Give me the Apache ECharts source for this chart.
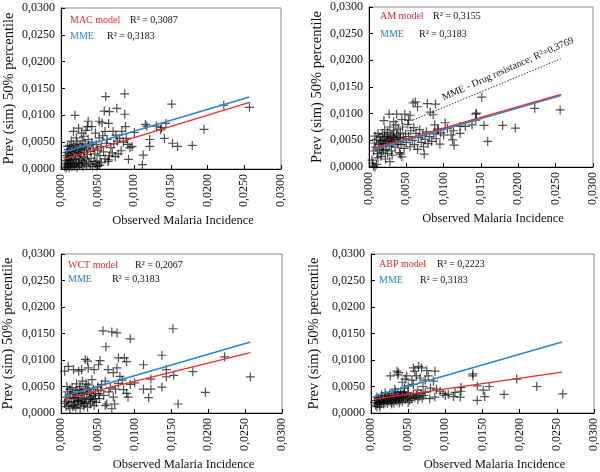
<!DOCTYPE html>
<html><head><meta charset="utf-8">
<script src="https://cdn.jsdelivr.net/npm/echarts@6/dist/echarts.min.js"></script>
<style>html,body{margin:0;padding:0;background:#fff}#c{width:600px;height:472px}</style>
</head><body><div id="c"></div>
<script>
// ---------- data ----------
const tickLabels = ['0,0000','0,0050','0,0100','0,0150','0,0200','0,0250','0,0300'];
const xName = 'Observed Malaria Incidence';
const yName = 'Prev (sim) 50% percentile';
const modelNames = ['MAC model','AM model','WCT model','ABP model'];
const modelR2 = ['R² = 0,3087','R² = 0,3155','R² = 0,2067','R² = 0,2223'];
const mmeName = 'MME';
const mmeR2 = 'R² = 0,3183';
const drugLabel = 'MME - Drug resistance; R²=0,3769';

const mmeLine = [[0.0005,0.0032],[0.0257,0.0134]];
const macLine = [[0.0005,0.0019],[0.0257,0.0124]];
const amLine  = [[0.0005,0.0035],[0.0257,0.0136]];
const wctLine = [[0.0005,0.0027],[0.0257,0.0114]];
const abpLine = [[0.0005,0.0026],[0.0257,0.0077]];
const drugLine = [[0.0059,0.0088],[0.0257,0.0203]];

const macPoints = [
[0.0061,0.0135],[0.0087,0.0140],[0.0019,0.0100],[0.0076,0.0113],[0.0059,0.0108],[0.0066,0.0107],[0.0087,0.0102],[0.0037,0.0089],[0.0052,0.0089],[0.0056,0.0086],[0.0065,0.0085],[0.0115,0.0083],[0.0136,0.0073],[0.0100,0.0068],[0.0083,0.0070],[0.0071,0.0070],[0.0060,0.0070],[0.0047,0.0067],[0.0036,0.0079],[0.0024,0.0076],[0.0017,0.0070],[0.0028,0.0067],[0.0042,0.0079],[0.0121,0.0055],[0.0121,0.0042],[0.0094,0.0040],[0.0112,0.0026],[0.0092,0.0018],[0.0111,0.0008],[0.0082,0.0034],[0.0074,0.0023],[0.0065,0.0017],[0.0053,0.0007],[0.0049,0.0015],
[0.0151,0.0121],[0.0222,0.0119],[0.0257,0.0115],[0.0195,0.0074],[0.0137,0.0077],[0.0143,0.0085],[0.0141,0.0057],[0.0152,0.0048],[0.0159,0.0042],[0.0179,0.0044],[0.0117,0.0080],[0.0130,0.0080],
[0.0068,0.0040],[0.0072,0.0047],[0.0077,0.0052],[0.0080,0.0057],[0.0085,0.0050],[0.0089,0.0057],[0.0091,0.0046],[0.0070,0.0030],[0.0078,0.0028],[0.0066,0.0025],[0.0075,0.0063],[0.0088,0.0079],[0.0097,0.0042],
[0.0005,0.0004],[0.0006,0.0009],[0.0007,0.0002],[0.0008,0.0013],[0.0009,0.0006],[0.0010,0.0010],[0.0011,0.0003],[0.0012,0.0016],[0.0013,0.0007],[0.0014,0.0011],[0.0015,0.0004],[0.0016,0.0020],[0.0017,0.0008],[0.0018,0.0013],[0.0019,0.0005],[0.0020,0.0017],[0.0021,0.0010],[0.0022,0.0003],[0.0023,0.0024],[0.0024,0.0012],[0.0025,0.0007],[0.0026,0.0019],[0.0027,0.0029],[0.0028,0.0009],[0.0029,0.0015],[0.0030,0.0004],[0.0031,0.0022],[0.0032,0.0011],[0.0034,0.0017],[0.0035,0.0006],[0.0036,0.0027],[0.0038,0.0013],[0.0040,0.0008],[0.0041,0.0020],[0.0043,0.0004],[0.0045,0.0014],[0.0047,0.0010],[0.0049,0.0005],[0.0052,0.0007],[0.0055,0.0012],
[0.0006,0.0025],[0.0008,0.0031],[0.0009,0.0042],[0.0010,0.0036],[0.0011,0.0028],[0.0012,0.0044],[0.0013,0.0033],[0.0015,0.0039],[0.0016,0.0030],[0.0017,0.0045],[0.0018,0.0036],[0.0019,0.0026],[0.0020,0.0041],[0.0021,0.0033],[0.0022,0.0048],[0.0024,0.0038],[0.0025,0.0030],[0.0026,0.0045],[0.0028,0.0035],[0.0029,0.0052],[0.0030,0.0040],[0.0032,0.0031],[0.0033,0.0047],[0.0035,0.0037],[0.0037,0.0055],[0.0038,0.0043],[0.0040,0.0033],[0.0042,0.0050],[0.0044,0.0039],[0.0046,0.0028],[0.0048,0.0046],[0.0050,0.0035],[0.0053,0.0025],[0.0055,0.0042],[0.0058,0.0032],[0.0060,0.0019],[0.0062,0.0048],[0.0064,0.0014],
[0.0031,0.0061],[0.0034,0.0072],[0.0052,0.0058],[0.0057,0.0062],[0.0063,0.0055],[0.0014,0.0052],[0.0021,0.0058],[0.0007,0.0016],[0.0009,0.0021],[0.0011,0.0018],[0.0014,0.0024]
];

const amPoints = [
[0.0151,0.0131],[0.0222,0.0110],[0.0256,0.0107],[0.0143,0.0099],[0.0143,0.0088],[0.0138,0.0079],[0.0122,0.0076],[0.0122,0.0063],[0.0154,0.0078],[0.0179,0.0078],[0.0196,0.0073],[0.0159,0.0048],
[0.0059,0.0120],[0.0065,0.0113],[0.0078,0.0119],[0.0089,0.0118],[0.0062,0.0122],[0.0082,0.0103],[0.0086,0.0098],[0.0027,0.0099],[0.0037,0.0099],[0.0048,0.0099],[0.0055,0.0097],[0.0020,0.0087],[0.0033,0.0085],[0.0044,0.0089],[0.0053,0.0088],[0.0144,0.0101],[0.0129,0.0076],[0.0102,0.0083],[0.0088,0.0079],[0.0093,0.0069],[0.0095,0.0043],[0.0112,0.0051],[0.0114,0.0041],[0.0074,0.0024],[0.0042,0.0024],[0.0044,0.0019],[0.0028,0.0010],[0.0004,0.0013],[0.0006,0.0002],[0.0008,0.0000],[0.0005,0.0007],[0.0010,0.0005],[0.0012,0.0017],
[0.0006,0.0030],[0.0007,0.0045],[0.0008,0.0058],[0.0009,0.0037],[0.0010,0.0052],[0.0011,0.0025],[0.0012,0.0063],[0.0013,0.0042],[0.0014,0.0033],[0.0015,0.0056],[0.0016,0.0047],[0.0017,0.0028],[0.0018,0.0061],[0.0019,0.0038],[0.0020,0.0052],[0.0021,0.0070],[0.0022,0.0044],[0.0023,0.0033],[0.0024,0.0058],[0.0025,0.0065],[0.0026,0.0048],[0.0027,0.0039],[0.0028,0.0075],[0.0029,0.0055],[0.0030,0.0030],[0.0031,0.0062],[0.0032,0.0045],[0.0033,0.0068],[0.0034,0.0052],[0.0035,0.0037],[0.0036,0.0079],[0.0037,0.0060],[0.0038,0.0047],[0.0039,0.0071],[0.0040,0.0056],[0.0041,0.0027],[0.0042,0.0064],[0.0043,0.0042],[0.0045,0.0075],[0.0046,0.0053],[0.0047,0.0035],[0.0049,0.0062],[0.0050,0.0046],[0.0052,0.0080],[0.0053,0.0057],[0.0055,0.0038],[0.0056,0.0068],[0.0058,0.0050],[0.0060,0.0074],[0.0061,0.0042],[0.0063,0.0063],[0.0065,0.0033],[0.0066,0.0055],[0.0068,0.0070],[0.0070,0.0046],[0.0072,0.0060],[0.0073,0.0038],[0.0075,0.0052],[0.0077,0.0066],[0.0079,0.0044],[0.0081,0.0057],[0.0084,0.0048],[0.0087,0.0062],[0.0090,0.0053],[0.0092,0.0071],[0.0096,0.0064],[0.0100,0.0060],[0.0105,0.0072],[0.0110,0.0060],[0.0113,0.0068],
[0.0015,0.0050],[0.0018,0.0044],[0.0021,0.0057],[0.0024,0.0049],[0.0027,0.0054],[0.0030,0.0047],[0.0033,0.0058],[0.0036,0.0051],[0.0039,0.0043],[0.0042,0.0055],[0.0019,0.0031],[0.0025,0.0025],[0.0031,0.0022],[0.0016,0.0020],[0.0022,0.0015]
];

const wctPoints = [
[0.0152,0.0159],[0.0222,0.0106],[0.0257,0.0068],[0.0137,0.0109],[0.0143,0.0082],[0.0143,0.0068],[0.0153,0.0071],[0.0179,0.0078],[0.0196,0.0039],[0.0137,0.0049],[0.0159,0.0017],[0.0122,0.0064],[0.0122,0.0045],[0.0112,0.0045],[0.0119,0.0029],[0.0112,0.0091],
[0.0057,0.0155],[0.0069,0.0153],[0.0076,0.0151],[0.0094,0.0140],[0.0061,0.0125],[0.0033,0.0101],[0.0036,0.0098],[0.0053,0.0099],[0.0078,0.0104],[0.0086,0.0104],[0.0089,0.0097],
[0.0005,0.0079],[0.0010,0.0088],[0.0017,0.0082],[0.0024,0.0079],[0.0028,0.0082],[0.0037,0.0085],[0.0045,0.0082],[0.0051,0.0091],[0.0064,0.0082],[0.0071,0.0076],[0.0076,0.0085],[0.0094,0.0054],[0.0100,0.0057],[0.0089,0.0037],[0.0091,0.0030],[0.0071,0.0030],[0.0073,0.0017],[0.0069,0.0008],[0.0060,0.0014],[0.0062,0.0017],[0.0046,0.0027],[0.0051,0.0036],[0.0055,0.0054],[0.0060,0.0060],[0.0067,0.0048],[0.0080,0.0069],[0.0083,0.0062],[0.0074,0.0045],[0.0078,0.0056],[0.0085,0.0044],[0.0065,0.0040],[0.0058,0.0033],
[0.0005,0.0018],[0.0006,0.0030],[0.0007,0.0012],[0.0008,0.0022],[0.0009,0.0040],[0.0010,0.0015],[0.0011,0.0027],[0.0012,0.0008],[0.0013,0.0035],[0.0014,0.0019],[0.0015,0.0048],[0.0016,0.0012],[0.0017,0.0029],[0.0018,0.0021],[0.0019,0.0038],[0.0020,0.0010],[0.0021,0.0055],[0.0022,0.0024],[0.0023,0.0016],[0.0024,0.0033],[0.0025,0.0044],[0.0026,0.0009],[0.0027,0.0026],[0.0028,0.0019],[0.0029,0.0060],[0.0030,0.0037],[0.0031,0.0013],[0.0032,0.0028],[0.0033,0.0047],[0.0034,0.0021],[0.0035,0.0035],[0.0036,0.0011],[0.0037,0.0053],[0.0038,0.0025],[0.0039,0.0040],[0.0040,0.0017],[0.0041,0.0031],[0.0042,0.0063],[0.0043,0.0022],[0.0044,0.0045],[0.0045,0.0014],[0.0047,0.0037],[0.0048,0.0020],[0.0050,0.0049],[0.0052,0.0027],[0.0054,0.0042],
[0.0008,0.0050],[0.0012,0.0045],[0.0016,0.0036],[0.0020,0.0029],[0.0024,0.0023],[0.0028,0.0039],[0.0032,0.0018],[0.0036,0.0043],[0.0040,0.0026],[0.0044,0.0033],[0.0018,0.0014],[0.0022,0.0042],[0.0026,0.0050],[0.0030,0.0022],[0.0034,0.0055]
];

const abpPoints = [
[0.0137,0.0074],[0.0137,0.0070],[0.0196,0.0064],[0.0223,0.0050],[0.0258,0.0036],[0.0143,0.0051],[0.0159,0.0050],[0.0151,0.0043],[0.0143,0.0024],[0.0153,0.0031],[0.0179,0.0035],[0.0121,0.0048],[0.0121,0.0041],
[0.0026,0.0070],[0.0035,0.0079],[0.0037,0.0076],[0.0036,0.0072],[0.0048,0.0070],[0.0046,0.0064],[0.0057,0.0085],[0.0059,0.0079],[0.0064,0.0088],[0.0068,0.0085],[0.0061,0.0070],[0.0075,0.0080],[0.0077,0.0070],[0.0073,0.0062],[0.0086,0.0079],[0.0050,0.0051],[0.0057,0.0054],[0.0088,0.0045],[0.0084,0.0060],[0.0097,0.0037],[0.0111,0.0031],[0.0120,0.0030],[0.0113,0.0039],[0.0073,0.0039],[0.0079,0.0027],[0.0086,0.0030],[0.0100,0.0033],[0.0066,0.0066],[0.0070,0.0050],[0.0063,0.0043],[0.0080,0.0047],[0.0093,0.0041],[0.0104,0.0035],[0.0055,0.0062],[0.0042,0.0058],[0.0032,0.0045],[0.0040,0.0040],[0.0045,0.0047],
[0.0005,0.0020],[0.0006,0.0015],[0.0007,0.0024],[0.0008,0.0012],[0.0009,0.0018],[0.0010,0.0028],[0.0011,0.0021],[0.0012,0.0016],[0.0013,0.0025],[0.0014,0.0019],[0.0015,0.0030],[0.0016,0.0022],[0.0017,0.0017],[0.0018,0.0027],[0.0019,0.0020],[0.0020,0.0033],[0.0021,0.0024],[0.0022,0.0018],[0.0023,0.0029],[0.0024,0.0022],[0.0025,0.0036],[0.0026,0.0026],[0.0027,0.0020],[0.0028,0.0031],[0.0029,0.0024],[0.0030,0.0028],[0.0031,0.0019],[0.0032,0.0033],[0.0033,0.0025],[0.0034,0.0029],[0.0035,0.0022],[0.0036,0.0038],[0.0037,0.0027],[0.0038,0.0031],[0.0039,0.0024],[0.0040,0.0034],[0.0041,0.0028],[0.0042,0.0021],[0.0043,0.0036],[0.0044,0.0030],[0.0046,0.0025],[0.0047,0.0033],[0.0049,0.0028],[0.0050,0.0038],[0.0052,0.0024],[0.0053,0.0031],[0.0055,0.0027],[0.0057,0.0035],[0.0059,0.0029],[0.0061,0.0033],[0.0063,0.0026],[0.0065,0.0031],[0.0067,0.0037],[0.0069,0.0028],[0.0071,0.0033],
[0.0012,0.0011],[0.0008,0.0030],[0.0014,0.0034],[0.0019,0.0038],[0.0024,0.0031],[0.0028,0.0017],[0.0033,0.0040],[0.0038,0.0019],[0.0045,0.0040],[0.0050,0.0020]
];

// ---------- layout / style ----------
const FONT = "'Liberation Serif','Times New Roman',serif";
const RED = '#ee2a2a', BLUE = '#2a86cc';
const grids = [
  {left:61, top:8, width:220, height:161},
  {left:369, top:7, width:224, height:160},
  {left:61, top:254, width:221, height:162},
  {left:371, top:254, width:223, height:162}
];
const yNameGaps = [44,44,45,49];
const panelPoints = [macPoints, amPoints, wctPoints, abpPoints];
const panelLines = [macLine, amLine, wctLine, abpLine];

function fmt(v){ const i = Math.round(v/0.005); return tickLabels[i] !== undefined ? tickLabels[i] : ''; }

const xAxes = [], yAxes = [], series = [];
grids.forEach((g,i)=>{
  xAxes.push({
    gridIndex:i, type:'value', min:0, max:0.03, interval:0.005,
    name:xName, nameLocation:'middle', nameGap:45,
    nameTextStyle:{fontFamily:FONT, fontSize:12.5, color:'#111', padding:[0,0,0,24]},
    axisLine:{show:true, onZero:false, lineStyle:{color:'#000', width:1}},
    axisTick:{show:true, inside:true, length:4, lineStyle:{color:'#000'}},
    axisLabel:{rotate:90, margin:5, fontFamily:FONT, fontSize:12, color:'#111', formatter:fmt},
    splitLine:{show:false}
  });
  yAxes.push({
    gridIndex:i, type:'value', min:0, max:0.03, interval:0.005,
    name:yName, nameLocation:'middle', nameGap:yNameGaps[i],
    nameTextStyle:{fontFamily:FONT, fontSize:14.5, color:'#111'},
    axisLine:{show:true, onZero:false, lineStyle:{color:'#000', width:1}},
    axisTick:{show:true, inside:true, length:4, lineStyle:{color:'#000'}},
    axisLabel:{margin:6, fontFamily:FONT, fontSize:12, color:'#111', formatter:fmt},
    splitLine:{show:false}
  });
  series.push({
    type:'scatter', xAxisIndex:i, yAxisIndex:i, data:panelPoints[i],
    symbol:'path://M0,4L8,4M4,0L4,8', symbolSize:9,
    itemStyle:{color:'rgba(0,0,0,0)', borderColor:'rgba(0,0,0,0.85)', borderWidth:1.2},
    silent:true, z:2
  });
  series.push({
    type:'line', xAxisIndex:i, yAxisIndex:i, data:mmeLine, symbol:'none',
    lineStyle:{color:BLUE, width:1.5}, silent:true, z:3
  });
  series.push({
    type:'line', xAxisIndex:i, yAxisIndex:i, data:panelLines[i], symbol:'none',
    lineStyle:{color:RED, width:1.3}, silent:true, z:4
  });
});
series.push({
  type:'line', xAxisIndex:1, yAxisIndex:1, data:drugLine, symbol:'none',
  lineStyle:{color:'#333', width:1, type:[1.5,1.5]}, silent:true, z:3
});

const legendPos = [
  {mx:70, my:21, rx:130, mmeY:37, r2x:107},
  {mx:380, my:17, rx:433, mmeY:35, r2x:419},
  {mx:68, my:266, rx:135, mmeY:280, r2x:112},
  {mx:379, my:265, rx:437, mmeY:281, r2x:420}
];
const graphic = [];
legendPos.forEach((p,i)=>{
  graphic.push({type:'text', left:p.mx, top:p.my-6, style:{text:modelNames[i], fill:RED, font:"10px "+FONT}});
  graphic.push({type:'text', left:p.rx, top:p.my-6, style:{text:modelR2[i], fill:'#111', font:"10px "+FONT}});
  graphic.push({type:'text', left:p.mx, top:p.mmeY-6, style:{text:mmeName, fill:BLUE, font:"10px "+FONT}});
  graphic.push({type:'text', left:p.r2x, top:p.mmeY-6, style:{text:mmeR2, fill:'#111', font:"10px "+FONT}});
});
graphic.push({type:'text', x:508, y:69, rotation:24*Math.PI/180,
  style:{text:drugLabel, fill:'#111', font:"10px "+FONT, textAlign:'center', textVerticalAlign:'middle'}});

const chart = echarts.init(document.getElementById('c'), null, {renderer:'canvas'});
chart.setOption({
  animation:false,
  backgroundColor:'#fff',
  grid: grids.map(g=>Object.assign({show:true, borderColor:'#888', borderWidth:1, backgroundColor:'transparent', containLabel:false}, g)),
  xAxis:xAxes, yAxis:yAxes, series:series, graphic:graphic
});
</script></body></html>
